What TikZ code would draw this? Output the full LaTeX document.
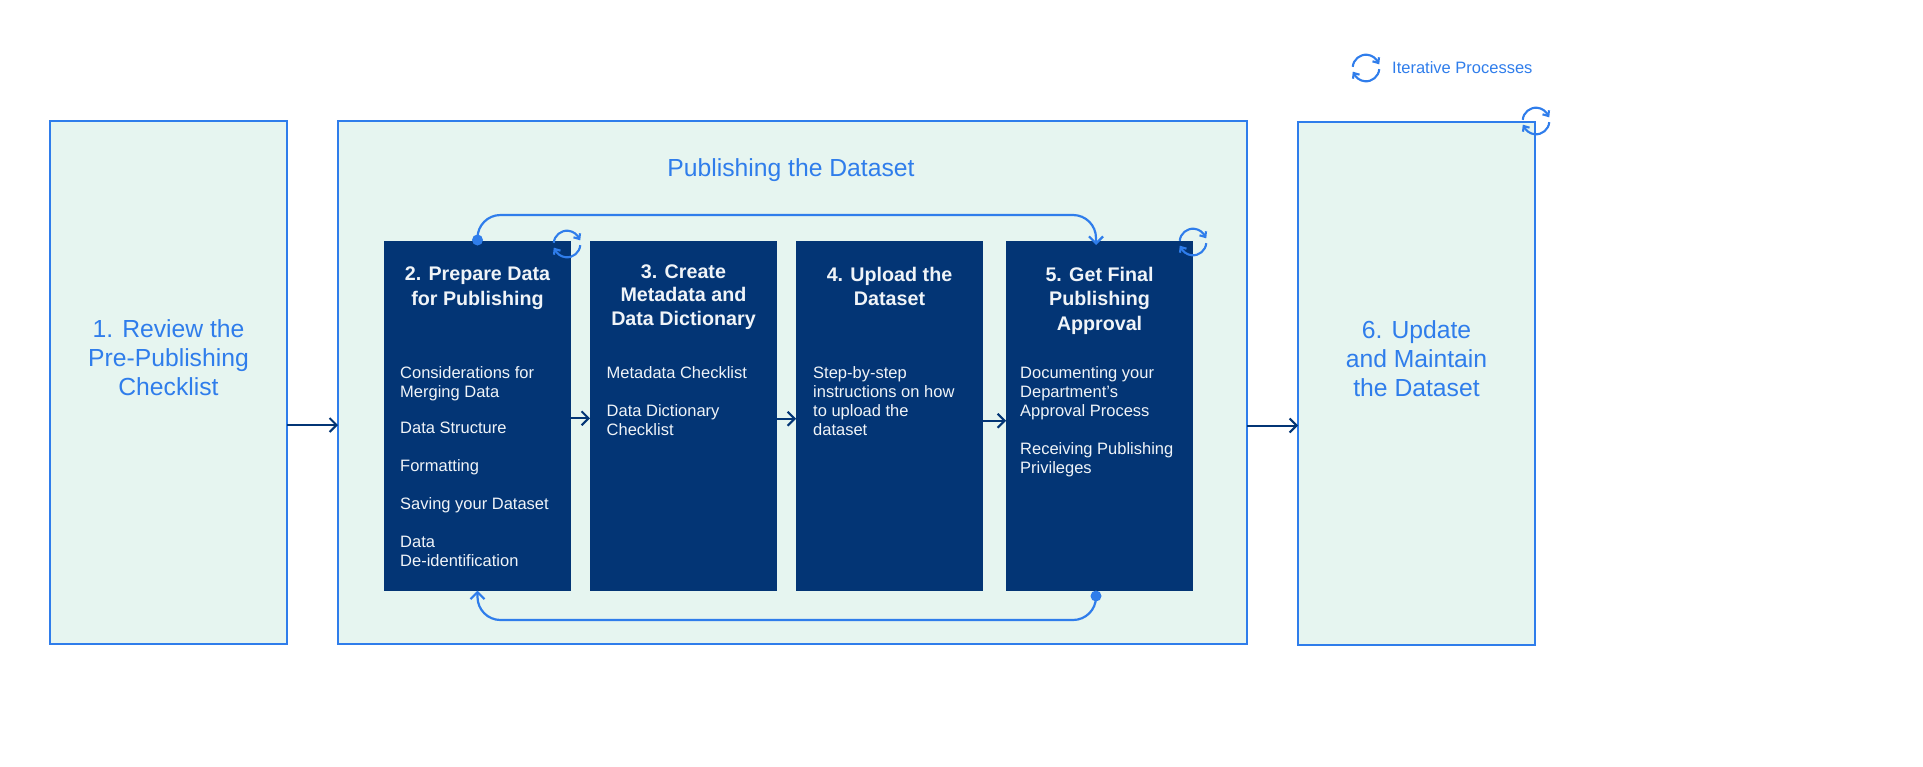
\documentclass[tikz,border=0pt]{standalone}
\usepackage{fontspec}
\setmainfont{Liberation Sans}
\usetikzlibrary{arrows.meta}

\definecolor{flowblue}{RGB}{47,125,235}
\definecolor{flowdark}{RGB}{3,53,117}
\definecolor{flowpale}{RGB}{230,245,240}
\definecolor{flowwhite}{RGB}{240,244,248}

\tikzset{
    stagebox/.style={shape=rectangle, draw=flowblue, fill=flowpale, line width=2.3pt, outer sep=0pt, minimum width=237pt, minimum height=523pt},
    darkbox/.style={shape=rectangle, fill=flowdark, outer sep=0pt, minimum width=187pt, minimum height=349.5pt},
    stagetext/.style={text=flowblue, align=center, font=\fontsize{24.7}{29}\selectfont},
    darktitle/.style={text=flowwhite, align=center, anchor=north, font=\fontsize{19.7}{24.5}\selectfont\bfseries},
    darkbody/.style={text=flowwhite, align=left, anchor=north west, inner sep=0pt, font=\fontsize{16.5}{19}\selectfont},
    flowarrow/.style={draw=flowdark, line width=2pt, -{Straight Barb[length=7pt,width=14pt]}},
    loopflow/.style={draw=flowblue, line width=2.2pt, rounded corners=23pt, -{Straight Barb[length=7pt,width=14pt]}},
    loopdot/.style={shape=circle, fill=flowblue, inner sep=0pt, minimum size=11pt},
    iterloop/.pic={
        \draw[flowblue, line width=2.1pt] (175:13.3pt) arc[start angle=175, end angle=22, radius=13.3pt];
        \draw[flowblue, line width=2.1pt] (13pt, 10.7pt) -- (12.3pt, 5pt) -- (6.5pt, 6.7pt);
        \draw[flowblue, line width=2.1pt] (-5:13.3pt) arc[start angle=-5, end angle=-158, radius=13.3pt];
        \draw[flowblue, line width=2.1pt] (-13pt, -10.7pt) -- (-12.3pt, -5pt) -- (-6.5pt, -6.7pt);
    }
}

\begin{document}
\begin{tikzpicture}[x=1pt, y=-1pt]
    \useasboundingbox (0, 0) rectangle (1923, 766);

    \node[stagebox] (review) at (168.5, 382.5) {};
    \node[stagebox, minimum width=909pt] (panel) at (792.5, 382.5) {};
    \node[stagebox] (update) at (1416.5, 383.5) {};

    \node[darkbox] (prepare) at (477.5, 415.75) {};
    \node[darkbox] (metadata) at (683.5, 415.75) {};
    \node[darkbox] (upload) at (889.5, 415.75) {};
    \node[darkbox] (approval) at (1099.5, 415.75) {};

    \node[stagetext] (reviewtext) at (168.5, 357.5) {1. Review the\\Pre-Publishing\\Checklist};
    \node[stagetext] (paneltext) at (791, 170) {Publishing the Dataset};
    \node[stagetext] (updatetext) at (1416.5, 359) {6. Update\\and Maintain\\the Dataset};

    \node[darktitle] (preparetitle) at (477.5, 263.5) {2. Prepare Data\\for Publishing};
    \node[darktitle, font=\fontsize{19.7}{23.7}\selectfont\bfseries] (metadatatitle) at (683.5, 261) {3. Create\\Metadata and\\Data Dictionary};
    \node[darktitle] (uploadtitle) at (889.5, 263.5) {4. Upload the\\Dataset};
    \node[darktitle] (approvaltitle) at (1099.5, 263.5) {5. Get Final\\Publishing\\Approval};

    \node[darkbody] (preparebody) at (400, 366.5) {Considerations for\\Merging Data\\[16.5pt]Data Structure\\[19pt]Formatting\\[19pt]Saving your Dataset\\[19pt]Data\\De-identification};
    \node[darkbody] (metadatabody) at (606.5, 366.5) {Metadata Checklist\\[19pt]Data Dictionary\\Checklist};
    \node[darkbody] (uploadbody) at (813, 366.5) {Step-by-step\\instructions on how\\to upload the\\dataset};
    \node[darkbody] (approvalbody) at (1020, 366.5) {Documenting your\\Department’s\\Approval Process\\[19pt]Receiving Publishing\\Privileges};

    \draw[flowarrow] ([yshift=-42.5pt]review.east) -- ([yshift=-42.5pt]panel.west);
    \draw[flowarrow] ([yshift=-2.5pt]prepare.east) -- ([yshift=-2.5pt]metadata.west);
    \draw[flowarrow] ([yshift=-3pt]metadata.east) -- ([yshift=-3pt]upload.west);
    \draw[flowarrow] ([yshift=-5pt]upload.east) -- ([yshift=-5pt]approval.west);
    \draw[flowarrow] ([yshift=-43pt]panel.east) -- ([yshift=-42pt]update.west);

    \node[loopdot] (topdot) at ([yshift=1pt]prepare.north) {};
    \node[loopdot] (bottomdot) at ([shift={(-3.5pt,-5.5pt)}]approval.south) {};
    \draw[loopflow, shorten >=-4pt] (topdot.center) -- ++(0, -25) -| ([xshift=-3.5pt]approval.north);
    \draw[loopflow] (bottomdot.center) -- ++(0, 24) -| (prepare.south);

    \pic (prepareloop) at (567, 244) {iterloop};
    \pic (approvalloop) at (1193, 242) {iterloop};
    \pic (updateloop) at (1536, 121) {iterloop};
    \pic (legendloop) at (1366, 68) {iterloop};
    \node[text=flowblue, anchor=west, inner sep=0pt, font=\fontsize{16.5}{19}\selectfont] (legendtext) at (1392, 68) {Iterative Processes};
\end{tikzpicture}
\end{document}
